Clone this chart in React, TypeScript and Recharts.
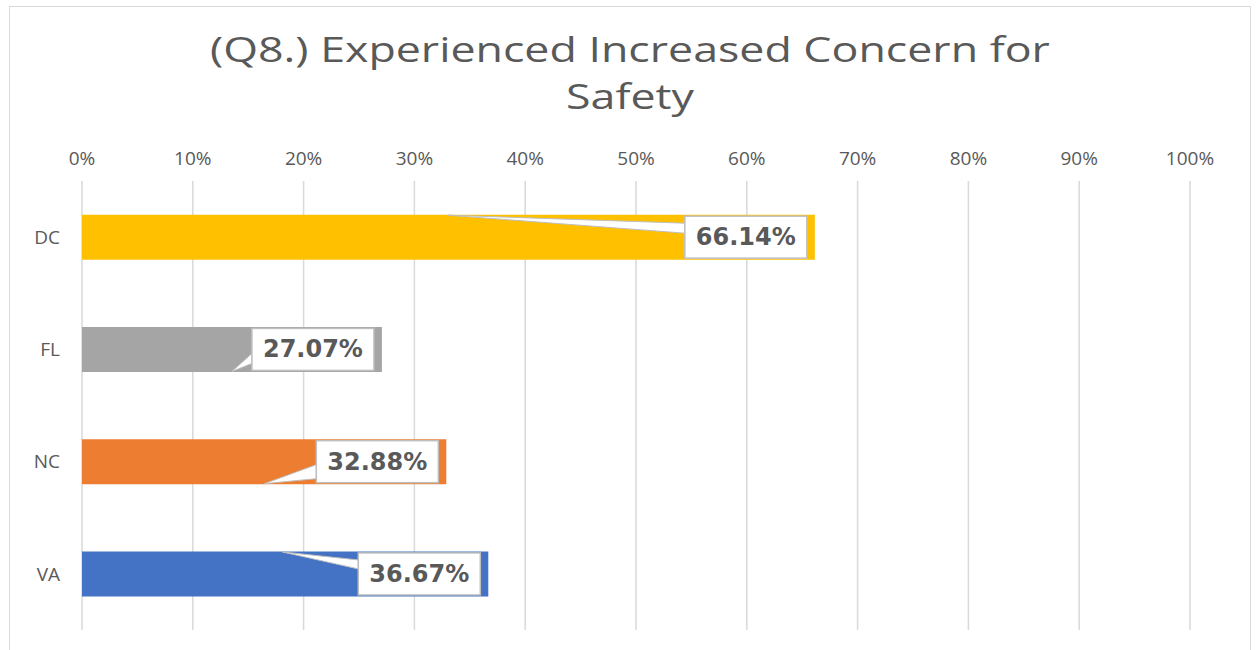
import { BarChart, Bar, Cell, XAxis, YAxis, CartesianGrid, LabelList } from "recharts";

const states = ["DC", "FL", "NC", "VA"];
const shares = [0.6614, 0.2707, 0.3288, 0.3667];
const labels = ["66.14%", "27.07%", "32.88%", "36.67%"];
const ticks = [0, 0.1, 0.2, 0.3, 0.4, 0.5, 0.6, 0.7, 0.8, 0.9, 1];
const COLORS = ["#FFC000", "#A5A5A5", "#ED7D31", "#4472C4"];

// callout pointer per bar: tip x offset from box left, tip y / base ys from bar center
const POINTERS = [
  { tipX: -237, tipY: -22, b1: -14, b2: -4 },
  { tipX: -20, tipY: 22, b1: 4, b2: 14 },
  { tipX: -52, tipY: 22, b1: 3, b2: 17 },
  { tipX: -76, tipY: -22, b1: -14, b2: -5 },
];

const data = states.map((s, i) => ({ name: s, value: shares[i], label: labels[i] }));

const Callout = (props: any) => {
  const { x, y, width, height, index, value } = props;
  const boxW = 122;
  const boxH = 42;
  const right = x + width - 8;
  const left = right - boxW;
  const cy = y + height / 2;
  const p = POINTERS[index];
  const text = labels[index] ?? value;
  return (
    <g>
      <polygon
        points={`${left},${cy + p.b1} ${left + p.tipX},${cy + p.tipY} ${left},${cy + p.b2}`}
        fill="#fff"
        stroke="#bfbfbf"
        strokeWidth={1}
      />
      <rect x={left} y={cy - boxH / 2} width={boxW} height={boxH} fill="#fff" stroke="#bfbfbf" strokeWidth={1.5} />
      <text
        x={left + boxW / 2}
        y={cy + 1}
        textAnchor="middle"
        dominantBaseline="middle"
        fontFamily="DejaVu Sans"
        fontWeight="bold"
        fontSize={24}
        fill="#595959"
      >
        {text}
      </text>
    </g>
  );
};

export default function App() {
  return (
    <div
      style={{
        position: "absolute",
        left: 9,
        top: 6,
        width: 1240,
        height: 660,
        border: "1px solid #d9d9d9",
        background: "#fff",
        fontFamily: "'Open Sans', sans-serif",
      }}
    >
      <div
        style={{
          position: "absolute",
          left: 0,
          top: 19,
          width: 1240,
          textAlign: "center",
          fontSize: 34,
          lineHeight: "47px",
          color: "#595959",
          transform: "scaleX(1.315)",
          transformOrigin: "620px 0",
        }}
      >
        (Q8.) Experienced Increased Concern for
        <br />
        Safety
      </div>
      <div style={{ position: "absolute", left: 0, top: 0 }}>
        <BarChart
          width={1240}
          height={650}
          data={data}
          layout="vertical"
          margin={{ top: 144, right: 60, bottom: 27, left: 0 }}
          barCategoryGap="30%"
        >
          <CartesianGrid horizontal={false} stroke="#d9d9d9" strokeWidth={1.5} />
          <XAxis
            type="number"
            orientation="top"
            domain={[0, 1]}
            ticks={ticks}
            tickFormatter={(v: number) => `${Math.round(v * 100)}%`}
            axisLine={false}
            tickLine={false}
            tickSize={0}
            tickMargin={16}
            height={30}
            tick={{ fill: "#595959", fontSize: 19, fontFamily: "Open Sans" }}
          />
          <YAxis
            type="category"
            dataKey="name"
            width={72}
            axisLine={false}
            tickLine={false}
            tickSize={0}
            tickMargin={22}
            tick={{ fill: "#595959", fontSize: 19, fontFamily: "Open Sans" }}
          />
          <Bar dataKey="value" isAnimationActive={false}>
            {data.map((entry, index) => (
              <Cell key={`cell-${index}`} fill={COLORS[index % COLORS.length]} />
            ))}
            <LabelList dataKey="label" content={Callout} />
          </Bar>
        </BarChart>
      </div>
    </div>
  );
}
